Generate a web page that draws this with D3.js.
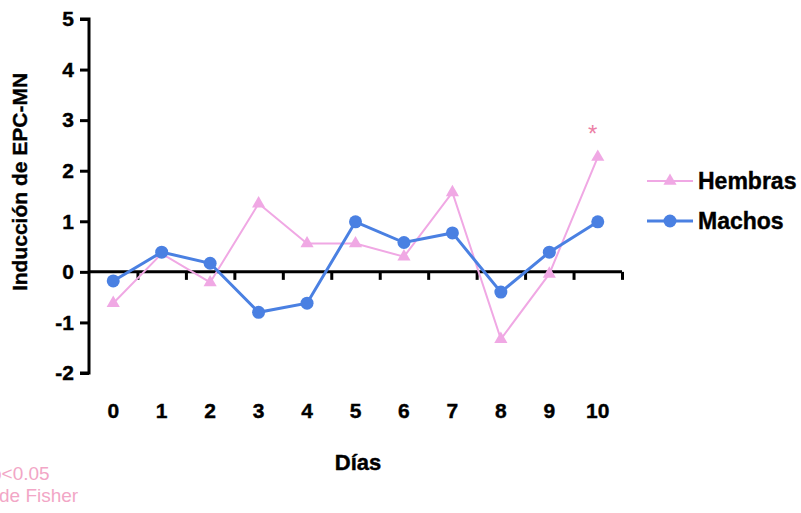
<!DOCTYPE html>
<html>
<head>
<meta charset="utf-8">
<script src="https://cdn.jsdelivr.net/npm/d3@7"></script>
<style>
  body { margin: 0; background: #fff; }
  svg { font-family: "Liberation Sans", Arial, sans-serif; }
  .axis path, .axis line { stroke: #000; stroke-width: 3; }
  .axis text { font-size: 21px; font-weight: bold; fill: #000; stroke: #000; stroke-width: 0.4; }
  .title { font-weight: bold; fill: #000; stroke: #000; stroke-width: 0.4; }
</style>
</head>
<body>
<div id="chart"></div>
<script>
var dias = ["0", "1", "2", "3", "4", "5", "6", "7", "8", "9", "10"];
var hembras = [-0.62, 0.36, -0.21, 1.35, 0.56, 0.56, 0.3, 1.57, -1.33, -0.04, 2.27];
var machos = [-0.18, 0.39, 0.17, -0.8, -0.62, 0.99, 0.58, 0.77, -0.4, 0.39, 0.99];
var yTicks = [-2, -1, 0, 1, 2, 3, 4, 5];

var w = 801, h = 513;
var plotLeft = 89, plotRight = 622, plotTop = 19, plotBottom = 373;

var svg = d3.select("#chart").append("svg")
  .attr("width", w)
  .attr("height", h);

var xScale = d3.scaleBand().domain(dias).range([plotLeft, plotRight]).padding(0);
var xEdges = d3.scaleLinear().domain([-0.5, 10.5]).range([plotLeft, plotRight]);
var yScale = d3.scaleLinear().domain([-2, 5]).range([plotBottom, plotTop]);

// y axis
var yAxis = d3.axisLeft(yScale).tickValues(yTicks).tickSize(9).tickPadding(6)
  .tickFormat(function(d) { return String(d); });
svg.append("g")
  .attr("class", "axis")
  .attr("transform", "translate(" + plotLeft + ",0)")
  .call(yAxis)
  .call(function(g) { g.select(".domain").attr("d", "M-9," + yScale(5) + "H0V" + yScale(-2) + "H-9"); });

// x axis along zero with ticks at the category edges
var xAxis = d3.axisBottom(xEdges).tickValues(d3.range(0.5, 11, 1)).tickSize(8).tickFormat("");
svg.append("g")
  .attr("class", "axis")
  .attr("transform", "translate(0," + yScale(0) + ")")
  .call(xAxis)
  .call(function(g) { g.select(".domain").attr("d", "M" + plotLeft + ",0H" + plotRight); });

// x labels
var xLabels = d3.axisBottom(xScale).tickSize(0).tickPadding(0);
svg.append("g")
  .attr("class", "axis")
  .attr("transform", "translate(0,403)")
  .call(xLabels)
  .call(function(g) { g.select(".domain").remove(); });

svg.append("text")
  .attr("class", "title")
  .attr("x", 358).attr("y", 470)
  .attr("text-anchor", "middle")
  .style("font-size", "22px")
  .text("Días");

svg.append("text")
  .attr("class", "title")
  .attr("transform", "translate(27,182) rotate(-90)")
  .attr("text-anchor", "middle")
  .style("font-size", "21px")
  .text("Inducción de EPC-MN");

var line = d3.line()
  .x(function(d, i) { return xScale(dias[i]) + xScale.bandwidth() / 2; })
  .y(function(d) { return yScale(d); });

var pink = "#f0a8e4", blue = "#4a80e2";

svg.append("path").datum(hembras)
  .attr("fill", "none").attr("stroke", pink).attr("stroke-width", 2)
  .attr("d", line);
svg.selectAll(".tri").data(hembras).enter().append("path")
  .attr("class", "tri")
  .attr("d", d3.symbol().type(d3.symbolTriangle).size(75))
  .attr("fill", pink)
  .attr("transform", function(d, i) {
    return "translate(" + (xScale(dias[i]) + xScale.bandwidth() / 2) + "," + yScale(d) + ")";
  });

svg.append("path").datum(machos)
  .attr("fill", "none").attr("stroke", blue).attr("stroke-width", 3)
  .attr("d", line);
svg.selectAll(".dot").data(machos).enter().append("circle")
  .attr("class", "dot")
  .attr("cx", function(d, i) { return xScale(dias[i]) + xScale.bandwidth() / 2; })
  .attr("cy", function(d) { return yScale(d); })
  .attr("r", 6.5)
  .attr("fill", blue);

// significance mark
svg.append("text")
  .attr("x", xScale("10") + xScale.bandwidth() / 2 - 5).attr("y", yScale(2.27) - 15)
  .attr("text-anchor", "middle")
  .style("font-size", "24px").style("fill", "#ec7fa6")
  .text("*");

// legend
var legend = [
  { name: "Hembras", color: pink, sym: "tri", y: 181, sw: 2 },
  { name: "Machos", color: blue, sym: "dot", y: 221, sw: 3 }
];
var lg = svg.selectAll(".legend").data(legend).enter().append("g")
  .attr("transform", function(d) { return "translate(647," + d.y + ")"; });
lg.append("line").attr("x1", 0).attr("x2", 46).attr("y1", 0).attr("y2", 0)
  .attr("stroke", function(d) { return d.color; })
  .attr("stroke-width", function(d) { return d.sw; });
lg.filter(function(d) { return d.sym === "tri"; }).append("path")
  .attr("d", d3.symbol().type(d3.symbolTriangle).size(75))
  .attr("transform", "translate(23,0)")
  .attr("fill", pink);
lg.filter(function(d) { return d.sym === "dot"; }).append("circle")
  .attr("cx", 23).attr("r", 6.5).attr("fill", blue);
lg.append("text")
  .attr("class", "title")
  .attr("x", 51).attr("y", 8)
  .style("font-size", "23px")
  .text(function(d) { return d.name; });

// footnote, cut at the left edge
svg.append("text")
  .attr("x", -9).attr("y", 480)
  .style("font-size", "19px").style("fill", "#f2a6c6")
  .text("p<0.05");
svg.append("text")
  .attr("x", -1).attr("y", 502)
  .style("font-size", "19px").style("fill", "#f2a6c6")
  .text("de Fisher");
</script>
</body>
</html>
